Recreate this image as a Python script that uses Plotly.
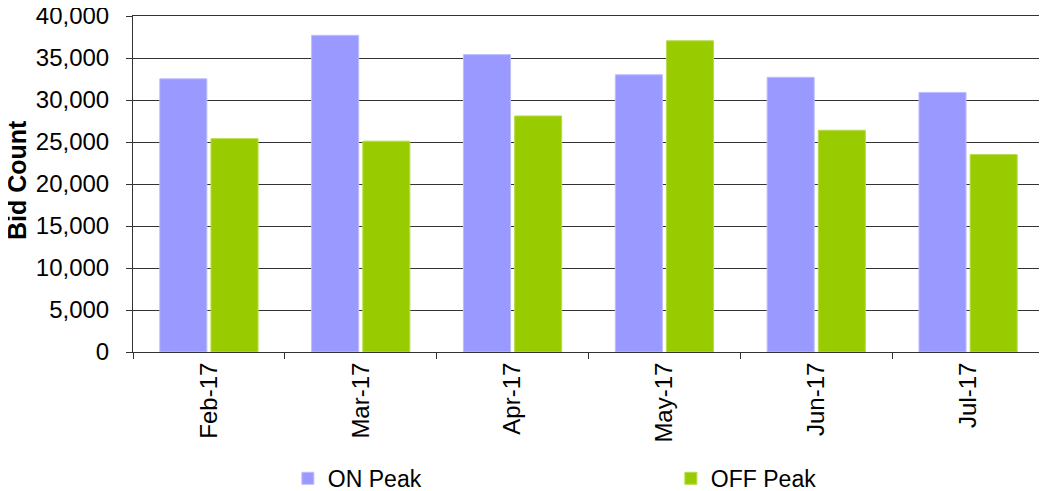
import plotly.graph_objects as go

months = ["Feb-17", "Mar-17", "Apr-17", "May-17", "Jun-17", "Jul-17"]
on_peak = [32520, 37700, 35400, 33000, 32700, 30900]
off_peak = [25400, 25100, 28100, 37050, 26400, 23500]

fig = go.Figure()
fig.add_trace(go.Bar(x=months, y=on_peak, name="ON Peak",
                     marker=dict(color="#9999FF", line=dict(color="#BDBDFF", width=1))))
fig.add_trace(go.Bar(x=months, y=off_peak, name="OFF Peak",
                     marker=dict(color="#99CC00", line=dict(color="#B8DC4C", width=1))))

# page body has an 8px margin, so the figure is a bit smaller than the window
fig.update_layout(
    width=1039, height=483,
    margin=dict(l=125, r=3, t=8, b=139, autoexpand=False),
    plot_bgcolor="white", paper_bgcolor="white",
    font=dict(family="Liberation Sans, Arial", size=24, color="black"),
    barmode="group", bargap=0.326, bargroupgap=0.08,
    legend=dict(orientation="h", x=0.17, xanchor="left", y=-0.376, yanchor="middle",
                entrywidth=338, entrywidthmode="pixels",
                font=dict(size=23), itemwidth=30),
)

# y axis title as annotation so it sits where the original one is
fig.add_annotation(text="<b>Bid Count</b>", textangle=-90, showarrow=False,
                   xref="paper", yref="paper", x=-0.128, y=0.513,
                   xanchor="center", yanchor="middle", font=dict(size=25))

fig.update_yaxes(
    range=[0, 40000], dtick=5000, tickformat=",d", automargin=False,
    ticklabeloverflow="allow", ticklabelstandoff=12,
    showgrid=True, gridcolor="#333333", gridwidth=1,
    showline=True, linecolor="#333333", linewidth=1, mirror=True,
    ticks="outside", ticklen=6, tickcolor="#333333",
    zeroline=False,
)
fig.update_xaxes(
    tickangle=-90, automargin=False,
    showline=True, linecolor="#333333", linewidth=1, mirror=True,
    ticks="outside", ticklen=6, tickcolor="#333333", tickson="boundaries",
    showgrid=False,
)

fig.write_html("out.html")
